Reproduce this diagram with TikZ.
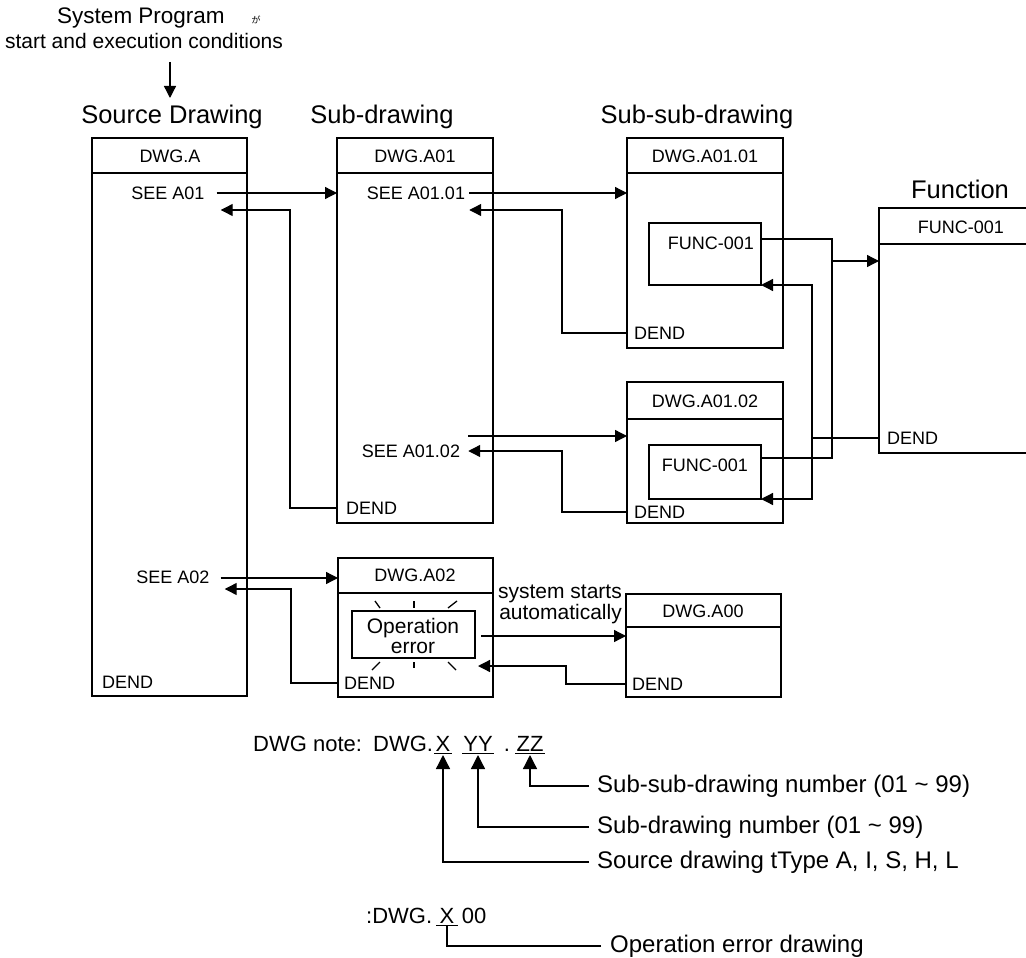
\documentclass[tikz,border=0pt]{standalone}
\usepackage{fontspec}
\setmainfont{Liberation Sans}
\newfontfamily\jpfont{Noto Sans CJK JP}
\usetikzlibrary{arrows.meta}
\begin{document}
\begin{tikzpicture}[x=1pt,y=-1pt,
  ln/.style={line width=1.3pt},
  arr/.style={ln,-{Triangle[length=12pt,width=12pt]}},
  narr/.style={ln,-{Triangle[length=14pt,width=14pt]}},
  box/.style={draw,line width=1.3pt,anchor=north west,inner sep=0pt,outer sep=0pt},
  lbl/.style={font=\fontsize{18}{20}\selectfont,inner sep=0pt},
  head/.style={font=\fontsize{25.5}{27}\selectfont,inner sep=0pt},
  big/.style={font=\fontsize{22.5}{24}\selectfont,inner sep=0pt},
  note/.style={font=\fontsize{22}{24}\selectfont,inner sep=0pt,anchor=base},
  desc/.style={font=\fontsize{24}{26}\selectfont,inner sep=0pt,anchor=west},
]
\useasboundingbox (0,0) rectangle (1026,958);

% title
\node[big] (sp) at (141,18) {System Program};
\node[font=\jpfont\fontsize{9}{9}\selectfont,inner sep=0pt] (ga) at (256,20) {が};
\node[font=\fontsize{21}{23}\selectfont,inner sep=0pt] (sc) at (144,41) {start and execution conditions};
\coordinate (d0) at (170,62);
\coordinate (d1) at (170,98);
\draw[arr] (d0) -- (d1);

% headings
\node[head] (hSrc) at (172,117) {Source Drawing};
\node[head] (hSub) at (382,117) {Sub-drawing};
\node[head] (hSS) at (697,117) {Sub-sub-drawing};
\node[head] (hF) at (960,189) {Function};

% boxes
\node[box,minimum width=155pt,minimum height=558pt] (A) at (92,138) {};
\node[box,minimum width=156pt,minimum height=385pt] (A01) at (337,138) {};
\node[box,minimum width=156pt,minimum height=210pt] (A0101) at (627,138) {};
\node[box,minimum width=156pt,minimum height=141pt] (A0102) at (627,382) {};
\node[box,minimum width=155pt,minimum height=139pt] (A02) at (338,558) {};
\node[box,minimum width=155pt,minimum height=103pt] (A00) at (626,594) {};
\node[box,minimum width=112pt,minimum height=62pt] (f1) at (649,223) {};
\node[box,minimum width=112pt,minimum height=54pt] (f2) at (649,445) {};
\node[box,minimum width=123pt,minimum height=47pt] (op) at (352,611) {};
\node[anchor=north west,inner sep=0pt,outer sep=0pt,minimum width=147pt,minimum height=245pt] (F) at (879,208) {};
\draw[ln] (F.north east) -- (F.north west) -- (F.south west) -- (F.south east);

% header lines
\draw[ln] ([yshift=-35pt]A.north west) -- ([yshift=-35pt]A.north east);
\draw[ln] ([yshift=-35pt]A01.north west) -- ([yshift=-35pt]A01.north east);
\draw[ln] ([yshift=-35pt]A0101.north west) -- ([yshift=-35pt]A0101.north east);
\draw[ln] ([yshift=-37pt]A0102.north west) -- ([yshift=-37pt]A0102.north east);
\draw[ln] ([yshift=-35pt]A02.north west) -- ([yshift=-35pt]A02.north east);
\draw[ln] ([yshift=-33pt]A00.north west) -- ([yshift=-33pt]A00.north east);
\draw[ln] ([yshift=-36pt]F.north west) -- ([yshift=-36pt]F.north east);

% box titles
\node[lbl] (tA) at (170,156) {DWG.A};
\node[lbl] (tA01) at (415,156) {DWG.A01};
\node[lbl] (tA0101) at (705,156) {DWG.A01.01};
\node[lbl] (tA0102) at (705,401) {DWG.A01.02};
\node[lbl] (tA02) at (415,575) {DWG.A02};
\node[lbl] (tA00) at (703,611) {DWG.A00};
\node[lbl] (tF) at (961,227) {FUNC-001};
\node[lbl] (tf1) at (711,243) {FUNC-001};
\node[lbl] (tf2) at (705,465) {FUNC-001};
\node[align=center,inner sep=0pt,font=\fontsize{21}{20}\selectfont] (top) at (413,636) {Operation\\error};

% SEE labels
\node[lbl] (sA01) at (168,193) {SEE A01};
\node[lbl] (sA0101) at (416,193) {SEE A01.01};
\node[lbl] (sA0102) at (411,451) {SEE A01.02};
\node[lbl] (sA02) at (173,577) {SEE A02};

% DEND labels
\node[lbl,anchor=west] (dA) at (102,682) {DEND};
\node[lbl,anchor=west] (dA01) at (346,508) {DEND};
\node[lbl,anchor=west] (dA0101) at (634,333) {DEND};
\node[lbl,anchor=west] (dA0102) at (634,512) {DEND};
\node[lbl,anchor=west] (dF) at (887,438) {DEND};
\node[lbl,anchor=west] (dA02) at (344,683) {DEND};
\node[lbl,anchor=west] (dA00) at (632,684) {DEND};

% system starts automatically
\node[font=\fontsize{21}{21}\selectfont,inner sep=0pt,align=right,anchor=east] (sys) at (622,604) {system starts\\automatically};

% connectors
\draw[arr] ([xshift=12pt]sA01.east) -- (sA01.east -| A01.west);
\draw[arr] (A01.west |- dA01.west) -- ++(-47,0) |- ([shift={(16,17)}]sA01.east);
\draw[arr] ([xshift=4pt]sA0101.east) -- (sA0101.east -| A0101.west);
\draw[arr] (A0101.west |- dA0101.west) -- ++(-65,0) |- ([shift={(4,17)}]sA0101.east);
\coordinate (o5) at ([shift={(8,-15)}]sA0102.east);
\draw[arr] (o5) -- (o5 -| A0102.west);
\draw[arr] (A0102.west |- dA0102.west) -- ++(-65,0) |- ([xshift=8pt]sA0102.east);
\draw[arr] ([shift={(11,1)}]sA02.east) -- ([yshift=-1pt]sA02.east -| A02.west);
\draw[arr] (A02.west |- dA02.west) -- ++(-47,0) |- ([shift={(15,12)}]sA02.east);
\coordinate (o9) at ([shift={(6,1.5)}]op.east);
\draw[arr] (o9) -- (o9 -| A00.west);
\draw[arr] (A00.west |- dA00.west) -- ++(-60,0) |- ([shift={(3,8)}]op.south east);

% function calls
\draw[ln] ([yshift=-16pt]f1.north east) -- ++(71,0) |- ([yshift=-13pt]f2.north east);
\coordinate (j) at ([shift={(71,38)}]f1.north east);
\draw[arr] (j) -- (j -| F.west);
\draw[ln] (F.west |- dF.west) -- ++(-67,0) coordinate (k);
\draw[arr] (k) |- (f1.south east);
\draw[arr] (k) |- (f2.south east);

% sparkles around operation error
\draw[ln] (375,601) -- (380,608);
\draw[ln] (414,601) -- (414,608);
\draw[ln] (457,601) -- (448,608);
\draw[ln] (380,662) -- (372,670);
\draw[ln] (414,662) -- (414,668);
\draw[ln] (448,662) -- (456,670);

% DWG note
\node[note,anchor=base west] (n1) at (253,751) {DWG note:};
\node[note,anchor=base west] (n2) at (373,751) {DWG.};
\node[note] (nX) at (443,751) {X};
\node[note] (nY) at (478,751) {YY};
\node[note] (nD) at (507,751) {.};
\node[note] (nZ) at (530,751) {ZZ};
\draw[ln] ([shift={(-1,2.5)}]nX.base west) -- ([shift={(1,2.5)}]nX.base east);
\draw[ln] ([shift={(-1,2.5)}]nY.base west) -- ([shift={(1,2.5)}]nY.base east);
\draw[ln] ([shift={(-1,2.5)}]nZ.base west) -- ([shift={(1,2.5)}]nZ.base east);

\node[desc] (tSS) at (597,786) {Sub-sub-drawing number (01 \textasciitilde{} 99)};
\node[desc] (tS) at (597,827) {Sub-drawing number (01 \textasciitilde{} 99)};
\node[desc] (tSrc) at (597,862) {Source drawing tType A, I, S, H, L};
\draw[narr] ([xshift=-8pt]tSS.west) -| ([yshift=-4pt]nZ.base);
\draw[narr] ([xshift=-8pt]tS.west) -| ([yshift=-4pt]nY.base);
\draw[narr] ([xshift=-8pt]tSrc.west) -| ([yshift=-4pt]nX.base);

\node[note,anchor=base west] (c1) at (366,923) {:DWG.};
\node[note] (c2) at (447,923) {X};
\node[note] (c3) at (474,923) {00};
\draw[ln] ([shift={(-3,2.5)}]c2.base west) -- ([shift={(3,2.5)}]c2.base east);
\node[desc] (tOp) at (610,946) {Operation error drawing};
\draw[ln] ([xshift=-9pt]tOp.west) -| ([yshift=-2.5pt]c2.base);
\end{tikzpicture}
\end{document}
